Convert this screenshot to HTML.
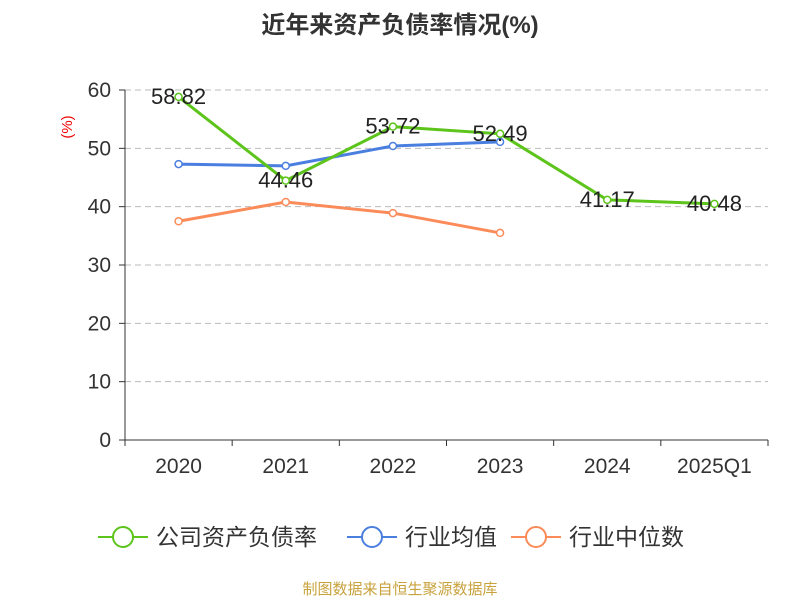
<!DOCTYPE html>
<html><head><meta charset="utf-8"><style>
body{margin:0;background:#fff;}
svg{display:block;font-family:"Liberation Sans","Noto Sans CJK SC",sans-serif;}
</style></head><body>
<svg id="chart" width="800" height="600">
<text x="400" y="33" text-anchor="middle" font-size="24" font-weight="bold" fill="#333">近年来资产负债率情况(%)</text>
<text x="68" y="127" font-size="15" fill="#e00" transform="rotate(-90 68 127)" text-anchor="middle" dominant-baseline="middle">(%)</text>
<g id="grid"></g><g id="axes"></g><g id="series"></g>
<g id="legend"></g>
<text x="400" y="594" text-anchor="middle" font-size="15" fill="#c8a23c">制图数据来自恒生聚源数据库</text>
</svg>
<script>
const categories=["2020","2021","2022","2023","2024","2025Q1"];
const companyValues=[58.82,44.46,53.72,52.49,41.17,40.48];
const industryAvg=[47.3,47.0,50.4,51.1,null,null];
const industryMedian=[37.5,40.8,38.9,35.5,null,null];
const yTicks=[0,10,20,30,40,50,60];
const seriesNames=["公司资产负债率","行业均值","行业中位数"];
const NS="http://www.w3.org/2000/svg";
const L=125,R=768,T=90,B=440,yMax=60;
const xs=i=>L+(R-L)/categories.length*(i+0.5);
const ys=v=>B-(B-T)*v/yMax;
function mk(tag,attrs,parent,text){const e=document.createElementNS(NS,tag);for(const k in attrs)e.setAttribute(k,attrs[k]);if(text!=null)e.textContent=text;parent.appendChild(e);return e;}
const grid=document.getElementById('grid'),axes=document.getElementById('axes'),ser=document.getElementById('series'),leg=document.getElementById('legend');
yTicks.forEach(t=>{
 if(t>0){const g=mk('line',{x1:L,x2:R,y1:ys(t),y2:ys(t),stroke:'#bbb','stroke-dasharray':'6,4'},grid);
 
 }
 const tk=mk('line',{x1:L-6,x2:L,y1:ys(t),y2:ys(t),stroke:'#333'},axes);
 
 
 const lb=mk('text',{x:L-14,y:ys(t)+7,'text-anchor':'end','font-size':21,fill:'#333'},axes,t);
 
 
});
const ya=mk('line',{x1:L,x2:L,y1:T,y2:B,stroke:'#333'},axes);


const xa=mk('line',{x1:L,x2:R,y1:B,y2:B,stroke:'#333'},axes);


const step=(R-L)/categories.length;
for(let i=0;i<=categories.length;i++){const tk=mk('line',{x1:L+step*i,x2:L+step*i,y1:B,y2:B+6,stroke:'#333'},axes);
 
 }
categories.forEach((c,i)=>{const t=mk('text',{x:xs(i),y:B+33,'text-anchor':'middle','font-size':21,fill:'#333'},axes,c);
 
 });
function drawSeries(vals,color,name,labels){
 const pts=[];vals.forEach((v,i)=>{if(v!=null)pts.push([xs(i),ys(v),v]);});
 const p=mk('polyline',{points:pts.map(p=>p[0]+','+p[1]).join(' '),fill:'none',stroke:color,'stroke-width':3},ser);
 
 
 pts.forEach(q=>{const c=mk('circle',{cx:q[0],cy:q[1],r:3.5,fill:'#fff',stroke:color,'stroke-width':1.5},ser);
  
  
  if(labels){const t=mk('text',{x:q[0],y:q[1]+7,'text-anchor':'middle','font-size':22,fill:'#222'},ser,q[2].toFixed(2));
  
  }
 });
}
drawSeries(industryMedian,'#fb8c5a','industry-median',false);
drawSeries(industryAvg,'#4a7fe0','industry-average',false);
drawSeries(companyValues,'#5cc41a','company-debt-ratio',true);
const colors=['#5cc41a','#4a7fe0','#fb8c5a'];const lx=[98,347,511];
seriesNames.forEach((n,i)=>{
 const g=mk('g',{},leg);
 
 
 mk('line',{x1:lx[i],x2:lx[i]+50,y1:537,y2:537,stroke:colors[i],'stroke-width':2},g);
 mk('circle',{cx:lx[i]+25,cy:537,r:10,fill:'#fff',stroke:colors[i],'stroke-width':2},g);
 mk('text',{x:lx[i]+58,y:545,'font-size':23,fill:'#333'},g,n);
});
</script>
</body></html>
